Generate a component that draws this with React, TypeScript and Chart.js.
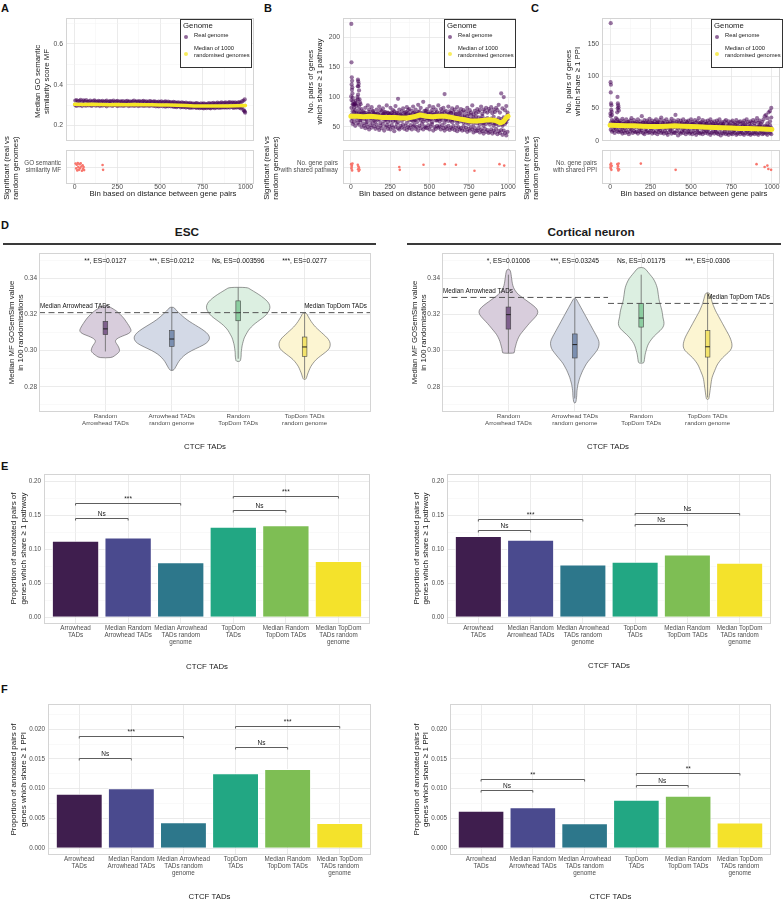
import React, { useEffect, useRef } from 'react';
import { Chart, registerables } from 'chart.js';

Chart.register(...registerables);

const FONT = '"Liberation Sans", Arial, Helvetica, sans-serif';
Chart.defaults.font.family = FONT;
Chart.defaults.color = '#4d4d4d';

// ================= DATA =================
// Panels A-C: bins of distance between gene pairs
const binTicks = [0, 250, 500, 750, 1000];
const binsX = [
  4, 12, 20, 28, 36, 44, 52, 60, 68, 76, 84, 92, 100, 108, 116, 124, 132, 140, 148, 156,
  164, 172, 180, 188, 196, 204, 212, 220, 228, 236, 244, 252, 260, 268, 276, 284, 292, 300, 308, 316,
  324, 332, 340, 348, 356, 364, 372, 380, 388, 396, 404, 412, 420, 428, 436, 444, 452, 460, 468, 476,
  484, 492, 500, 508, 516, 524, 532, 540, 548, 556, 564, 572, 580, 588, 596, 604, 612, 620, 628, 636,
  644, 652, 660, 668, 676, 684, 692, 700, 708, 716, 724, 732, 740, 748, 756, 764, 772, 780, 788, 796,
  804, 812, 820, 828, 836, 844, 852, 860, 868, 876, 884, 892, 900, 908, 916, 924, 932, 940, 948, 956,
  964, 972, 980, 988, 996,
];

// A: median GO semantic similarity score MF (real genome)
const aReal1 = [
  0.322, 0.325, 0.318, 0.321, 0.326, 0.317, 0.323, 0.320, 0.324, 0.316,
  0.319, 0.322, 0.315, 0.320, 0.323, 0.318, 0.316, 0.321, 0.319, 0.317,
  0.321, 0.316, 0.319, 0.322, 0.315, 0.318, 0.320, 0.317, 0.322, 0.316,
  0.318, 0.321, 0.315, 0.319, 0.317, 0.320, 0.314, 0.318, 0.321, 0.316,
  0.319, 0.315, 0.318, 0.322, 0.316, 0.319, 0.317, 0.320, 0.315, 0.318,
  0.321, 0.316, 0.319, 0.314, 0.318, 0.320, 0.315, 0.317, 0.319, 0.316,
  0.313, 0.317, 0.315, 0.319, 0.312, 0.316, 0.318, 0.314, 0.317, 0.313,
  0.315, 0.311, 0.316, 0.313, 0.310, 0.314, 0.312, 0.309, 0.313, 0.311,
  0.308, 0.312, 0.309, 0.307, 0.311, 0.306, 0.309, 0.305, 0.308, 0.310,
  0.306, 0.304, 0.308, 0.305, 0.309, 0.306, 0.303, 0.307, 0.310, 0.305,
  0.308, 0.311, 0.306, 0.309, 0.312, 0.307, 0.310, 0.313, 0.308, 0.311,
  0.313, 0.309, 0.312, 0.315, 0.310, 0.313, 0.311, 0.314, 0.309, 0.312,
  0.315, 0.311, 0.318, 0.322, 0.328,
];
const aReal2 = [
  0.300, 0.296, 0.303, 0.298, 0.301, 0.295, 0.304, 0.299, 0.297, 0.302,
  0.298, 0.301, 0.296, 0.300, 0.303, 0.297, 0.299, 0.302, 0.295, 0.300,
  0.297, 0.301, 0.299, 0.294, 0.300, 0.298, 0.302, 0.296, 0.299, 0.301,
  0.298, 0.295, 0.300, 0.297, 0.301, 0.296, 0.299, 0.298, 0.302, 0.295,
  0.299, 0.297, 0.301, 0.296, 0.298, 0.300, 0.295, 0.299, 0.297, 0.300,
  0.296, 0.299, 0.297, 0.301, 0.295, 0.298, 0.300, 0.296, 0.298, 0.294,
  0.297, 0.293, 0.296, 0.299, 0.294, 0.297, 0.292, 0.296, 0.294, 0.297,
  0.293, 0.296, 0.291, 0.294, 0.290, 0.293, 0.295, 0.289, 0.292, 0.290,
  0.292, 0.288, 0.291, 0.289, 0.286, 0.290, 0.287, 0.291, 0.288, 0.286,
  0.289, 0.285, 0.288, 0.286, 0.284, 0.287, 0.285, 0.289, 0.286, 0.284,
  0.287, 0.290, 0.285, 0.288, 0.291, 0.286, 0.289, 0.287, 0.290, 0.288,
  0.290, 0.287, 0.291, 0.288, 0.292, 0.289, 0.286, 0.290, 0.288, 0.291,
  0.287, 0.284, 0.289, 0.276, 0.268,
];
const aOutliers = [[998, 0.263], [992, 0.272]];
const aMedian = [
  [0, 0.304], [50, 0.303], [100, 0.304], [150, 0.303], [200, 0.302], [250, 0.303], [300, 0.302],
  [350, 0.303], [400, 0.302], [450, 0.302], [500, 0.301], [550, 0.300], [600, 0.299], [650, 0.298],
  [700, 0.296], [750, 0.295], [800, 0.295], [850, 0.296], [900, 0.296], [950, 0.297], [1000, 0.298],
];
const aStrip = [
  [6, 1.12], [10, 0.95], [13, 1.08], [16, 0.88], [19, 1.14], [22, 1.0], [26, 0.9], [29, 1.1], [32, 0.96],
  [36, 1.13], [40, 1.02], [43, 0.87], [47, 1.06], [50, 0.93], [53, 1.0], [56, 0.89], [164, 1.07], [167, 0.9],
];

// B: number of gene pairs sharing >= 1 pathway
const bReal1 = [
  95, 88, 82, 78, 90, 118, 85, 72, 80, 76,
  74, 82, 69, 86, 75, 71, 83, 77, 73, 68,
  79, 72, 84, 70, 76, 81, 72, 75, 86, 73,
  71, 82, 74, 78, 72, 85, 74, 97, 79, 70,
  76, 81, 70, 75, 83, 73, 80, 71, 77, 84,
  74, 79, 72, 87, 76, 82, 71, 92, 77, 73,
  80, 75, 85, 72, 78, 83, 71, 79, 75, 86,
  73, 80, 76, 82, 105, 77, 72, 84, 76, 74,
  81, 75, 79, 71, 83, 76, 73, 80, 75, 78,
  70, 76, 82, 72, 78, 74, 86, 71, 77, 73,
  80, 75, 78, 84, 72, 79, 76, 82, 74, 80,
  77, 83, 73, 79, 75, 82, 78, 87, 74, 106,
  81, 100, 78, 85, 74,
];
const bReal2 = [
  70, 64, 75, 68, 72, 66, 74, 61, 69, 65,
  63, 70, 58, 66, 72, 60, 67, 64, 71, 59,
  66, 62, 69, 57, 64, 71, 60, 67, 63, 58,
  65, 61, 68, 59, 66, 62, 70, 58, 64, 67,
  60, 66, 63, 69, 57, 65, 61, 68, 62, 59,
  67, 62, 58, 65, 70, 61, 66, 59, 63, 68,
  60, 65, 62, 69, 58, 64, 67, 61, 66, 63,
  59, 66, 62, 70, 57, 63, 68, 60, 65, 61,
  58, 64, 61, 67, 56, 62, 59, 65, 60, 57,
  62, 57, 60, 55, 63, 58, 61, 54, 59, 62,
  56, 60, 54, 61, 57, 52, 59, 55, 62, 58,
  54, 60, 57, 52, 59, 55, 61, 53, 58, 56,
  52, 60, 55, 58, 63,
];
const bReal3 = [
  60, 55, 58, 52, 62, 57, 54, 61, 50, 56,
  52, 48, 55, 50, 46, 53, 49, 56, 51, 47,
  54, 49, 45, 52, 48, 55, 44, 50, 53, 47,
  51, 46, 53, 49, 43, 50, 55, 48, 46, 52,
  49, 54, 47, 52, 45, 50, 48, 53, 46, 51,
  53, 47, 50, 44, 52, 48, 55, 46, 51, 49,
  48, 53, 46, 51, 55, 44, 50, 47, 52, 49,
  51, 46, 53, 48, 44, 50, 47, 52, 45, 49,
  47, 52, 45, 49, 43, 50, 46, 48, 44, 51,
  45, 49, 42, 47, 44, 50, 46, 41, 48, 43,
  44, 48, 41, 46, 43, 39, 47, 42, 45, 40,
  42, 46, 39, 44, 41, 47, 38, 43, 40, 45,
  37, 44, 40, 36, 42,
];
const bReal4 = [
  82, 76, 70, 88, 74, 96, 79, 66, 73, 69,
  67, 74, 62, 71, 79, 65, 70, 76, 61, 72,
  68, 73, 63, 78, 66, 70, 75, 62, 69, 74,
  64, 72, 66, 70, 76, 61, 68, 73, 65, 71,
  69, 63, 74, 67, 72, 78, 64, 70, 66, 73,
  62, 71, 68, 75, 64, 69, 73, 66, 70, 77,
  65, 72, 69, 63, 74, 70, 66, 73, 61, 68,
  70, 64, 72, 67, 75, 62, 69, 71, 66, 73,
  63, 69, 66, 72, 61, 67, 70, 64, 68, 62,
  66, 61, 68, 64, 58, 70, 63, 66, 60, 67,
  61, 66, 59, 64, 68, 57, 63, 60, 65, 62,
  59, 64, 61, 67, 56, 62, 58, 65, 60, 63,
  55, 66, 58, 62, 70,
];
const bOutliers = [
  [3, 222], [4, 158], [6, 133], [8, 127], [5, 121], [7, 112], [10, 106], [12, 99], [14, 93], [2, 101],
  [9, 116], [16, 88], [45, 129], [47, 126], [50, 122], [48, 118], [52, 111], [46, 104], [42, 100],
  [55, 96], [58, 91], [30, 94], [25, 89], [20, 87], [36, 85], [62, 88],
];
const bMedian = [
  [0, 68], [40, 68], [80, 67], [120, 68], [160, 67], [200, 66], [240, 66], [280, 66], [320, 65], [360, 65],
  [400, 67], [440, 70], [480, 68], [520, 67], [560, 68], [600, 68], [640, 66], [680, 64], [720, 62],
  [760, 60], [800, 60], [840, 61], [880, 62], [920, 61], [950, 57], [970, 59], [990, 66], [1000, 68],
];
const bStrip = [
  [2, 1.1], [4, 0.95], [6, 1.05], [8, 0.88], [10, 1.12], [5, 1.0], [44, 1.08], [46, 0.92], [48, 1.02],
  [50, 0.86], [52, 0.97], [55, 0.9], [308, 1.0], [311, 0.9], [462, 1.08], [597, 1.1], [668, 1.08],
  [786, 0.87], [945, 1.1], [975, 1.05],
];

// C: number of gene pairs sharing >= 1 PPI
const cReal1 = [
  38, 32, 30, 28, 35, 33, 29, 31, 27, 34,
  30, 27, 33, 29, 26, 31, 35, 28, 32, 27,
  29, 33, 26, 30, 38, 28, 32, 27, 31, 29,
  34, 28, 31, 26, 30, 33, 27, 29, 32, 36,
  28, 31, 27, 33, 29, 26, 30, 34, 28, 31,
  40, 29, 32, 27, 31, 28, 33, 26, 30, 29,
  31, 27, 33, 29, 26, 32, 28, 30, 35, 27,
  29, 32, 27, 30, 26, 31, 28, 33, 29, 27,
  30, 26, 31, 28, 33, 27, 29, 25, 30, 32,
  27, 30, 25, 29, 31, 26, 28, 32, 27, 29,
  30, 26, 28, 31, 27, 33, 29, 26, 30, 28,
  32, 27, 30, 35, 28, 31, 26, 29, 33, 38,
  40, 35, 44, 46, 51,
];
const cReal2 = [
  25, 22, 24, 20, 26, 23, 21, 25, 22, 19,
  23, 20, 24, 21, 25, 19, 22, 24, 20, 23,
  21, 24, 19, 23, 20, 25, 22, 18, 24, 21,
  22, 19, 24, 20, 23, 21, 25, 18, 22, 20,
  24, 20, 22, 19, 23, 21, 18, 24, 20, 22,
  21, 23, 19, 22, 20, 24, 18, 21, 23, 19,
  22, 18, 21, 23, 19, 22, 20, 17, 21, 24,
  19, 22, 18, 21, 23, 17, 20, 22, 19, 21,
  20, 17, 22, 19, 21, 18, 20, 23, 17, 19,
  18, 21, 17, 20, 19, 16, 21, 18, 20, 17,
  19, 16, 20, 18, 21, 17, 19, 16, 20, 18,
  17, 20, 16, 19, 18, 21, 16, 19, 17, 20,
  18, 22, 17, 24, 20,
];
const cReal3 = [
  17, 14, 16, 12, 18, 15, 13, 16, 14, 11,
  15, 12, 16, 13, 10, 14, 17, 12, 15, 13,
  14, 11, 15, 13, 16, 12, 10, 14, 15, 12,
  13, 16, 11, 14, 12, 15, 10, 13, 16, 12,
  14, 11, 15, 12, 9, 13, 16, 11, 14, 12,
  12, 15, 8, 13, 11, 14, 12, 16, 10, 13,
  14, 11, 13, 10, 15, 12, 9, 14, 12, 11,
  13, 10, 14, 12, 15, 11, 13, 9, 12, 14,
  11, 14, 12, 10, 13, 8, 12, 11, 14, 10,
  12, 9, 13, 11, 10, 14, 12, 9, 11, 13,
  10, 13, 11, 9, 12, 14, 10, 12, 9, 11,
  12, 10, 13, 11, 9, 12, 14, 10, 11, 13,
  11, 9, 14, 12, 10,
];
const cReal4 = [
  28, 24, 27, 22, 30, 26, 23, 28, 25, 21,
  26, 23, 27, 24, 29, 22, 25, 27, 23, 26,
  24, 27, 22, 26, 23, 28, 25, 21, 27, 24,
  25, 22, 27, 23, 26, 24, 28, 21, 25, 23,
  27, 23, 25, 22, 26, 24, 21, 27, 23, 25,
  24, 26, 22, 25, 23, 27, 21, 24, 26, 22,
  25, 21, 24, 26, 22, 25, 23, 20, 24, 27,
  22, 25, 21, 24, 26, 20, 23, 25, 22, 24,
  23, 20, 25, 22, 24, 21, 23, 26, 20, 22,
  21, 24, 20, 23, 22, 19, 24, 21, 23, 20,
  22, 19, 23, 21, 24, 20, 22, 19, 23, 21,
  20, 23, 19, 22, 21, 24, 19, 22, 20, 23,
  22, 27, 21, 30, 36,
];
const cOutliers = [
  [4, 183], [3, 91], [5, 87], [4, 75], [6, 58], [8, 55], [7, 48], [10, 45], [2, 42], [12, 40],
  [46, 68], [48, 58], [50, 55], [52, 52], [47, 50], [44, 44], [54, 47],
];
const cMedian = [
  [0, 24], [50, 23.5], [100, 23], [150, 23], [200, 22.5], [250, 22], [300, 22], [350, 22.5], [400, 23],
  [450, 22.5], [500, 22], [550, 21.5], [600, 21], [650, 20.5], [700, 20], [750, 19.5], [800, 19],
  [850, 19], [900, 18.5], [950, 18], [1000, 17.5],
];
const cStrip = [
  [2, 1.08], [4, 0.95], [6, 1.12], [8, 0.9], [3, 1.0], [10, 1.04], [45, 1.1], [47, 0.95], [49, 1.03],
  [51, 0.88], [53, 1.12], [55, 0.92], [190, 1.12], [405, 0.9], [905, 1.1], [955, 1.0], [972, 1.05],
  [978, 0.93], [995, 0.9],
];

const aTicks = [0.2, 0.4, 0.6];
const bTicks = [50, 100, 150, 200];
const cTicks = [0, 50, 100, 150];
const legendTitle = 'Genome';
const legendReal = 'Real genome';
const legendMedian = ['Median of 1000', 'randomised genomes'];

// Panel D: violins
const violinCats = [
  ['Random', 'Arrowhead TADs'],
  ['Arrowhead TADs', 'random genome'],
  ['Random', 'TopDom TADs'],
  ['TopDom TADs', 'random genome'],
];
const violinTicks = [0.28, 0.3, 0.32, 0.34];
const escV1 = [[0.325, 1], [0.324, 5], [0.323, 8], [0.322, 11], [0.32, 15], [0.318, 18.5], [0.316, 21], [0.314, 23.5], [0.312, 25.5], [0.311, 26], [0.31, 25], [0.309, 22], [0.308, 17], [0.307, 13], [0.306, 10.5], [0.305, 10], [0.304, 11], [0.302, 13.5], [0.3, 14.5], [0.299, 13.5], [0.298, 11.5], [0.297, 9], [0.296, 6]];
const escV2 = [[0.324, 2], [0.323, 3.5], [0.322, 5], [0.32, 9], [0.318, 13], [0.316, 18], [0.314, 24], [0.312, 30], [0.31, 35], [0.308, 38], [0.306, 38], [0.304, 35], [0.302, 28], [0.3, 20], [0.298, 14], [0.296, 10], [0.294, 7], [0.292, 5], [0.29, 3], [0.289, 1.5]];
const escV3 = [[0.335, 9], [0.334, 12], [0.333, 15], [0.331, 21], [0.329, 26], [0.327, 30], [0.325, 32], [0.323, 32], [0.321, 30], [0.319, 27], [0.317, 22], [0.315, 17], [0.313, 13], [0.311, 10], [0.309, 8], [0.307, 6], [0.305, 5], [0.303, 4], [0.301, 3.5], [0.299, 3], [0.297, 3], [0.295, 2.5], [0.294, 2]];
const escV4 = [[0.321, 1.5], [0.319, 3.5], [0.317, 5.5], [0.315, 8], [0.313, 11], [0.311, 15], [0.309, 19], [0.307, 23], [0.305, 25.5], [0.303, 26], [0.301, 25], [0.299, 21], [0.297, 16], [0.295, 11.5], [0.293, 8.5], [0.291, 6], [0.289, 4.5], [0.287, 3], [0.285, 2], [0.284, 1]];
const escBoxLo = [0.2995, 0.289, 0.2955, 0.2845];
const escBoxQ1 = [0.3088, 0.3023, 0.3165, 0.2968];
const escBoxMed = [0.312, 0.3064, 0.321, 0.302];
const escBoxQ3 = [0.3162, 0.311, 0.3275, 0.3075];
const escBoxHi = [0.3248, 0.324, 0.335, 0.321];
const escAnnot = ['**, ES=0.0127', '***, ES=0.0212', 'Ns, ES=0.003596', '***, ES=0.0277'];
const escMedians = [0.321, 0.321];

const cortV1 = [[0.345, 1.5], [0.343, 2.5], [0.341, 3], [0.339, 3.5], [0.337, 4], [0.335, 5], [0.333, 7], [0.331, 10], [0.329, 15], [0.327, 20], [0.325, 25], [0.323, 29], [0.321, 30], [0.319, 28], [0.317, 24.5], [0.315, 21], [0.313, 18], [0.311, 15], [0.309, 12], [0.307, 10], [0.305, 8.5], [0.303, 7.5], [0.301, 6.5], [0.299, 6], [0.2985, 5.5]];
const cortV2 = [[0.329, 1], [0.327, 3], [0.325, 5], [0.323, 7], [0.321, 9], [0.319, 11], [0.317, 13], [0.315, 15], [0.313, 17], [0.311, 19], [0.309, 21], [0.307, 23], [0.305, 24.5], [0.303, 24.5], [0.301, 23.5], [0.299, 21], [0.297, 18], [0.295, 15], [0.293, 12], [0.291, 10], [0.289, 8], [0.287, 6.5], [0.285, 5], [0.283, 4], [0.281, 3], [0.279, 2.5], [0.277, 2], [0.275, 2], [0.273, 1.5], [0.271, 1]];
const cortV3 = [[0.346, 3], [0.344, 6], [0.342, 9], [0.34, 12], [0.338, 14], [0.336, 15.5], [0.334, 16.5], [0.332, 17], [0.33, 17.5], [0.328, 18], [0.326, 19], [0.324, 20], [0.322, 21], [0.32, 21.5], [0.318, 22], [0.316, 23], [0.314, 23], [0.312, 21], [0.31, 17], [0.308, 13], [0.306, 10], [0.304, 7.5], [0.302, 6], [0.3, 5], [0.298, 4], [0.296, 3.5], [0.294, 3], [0.293, 2.5]];
const cortV4 = [[0.332, 2], [0.33, 3], [0.328, 4], [0.326, 5], [0.324, 6.5], [0.322, 8], [0.32, 10], [0.318, 12], [0.316, 14], [0.314, 16], [0.312, 18], [0.31, 20], [0.308, 22], [0.306, 23.5], [0.304, 24.5], [0.302, 24.7], [0.3, 23], [0.298, 19], [0.296, 15], [0.294, 12], [0.292, 9.5], [0.29, 8], [0.288, 6.5], [0.286, 5], [0.284, 4], [0.282, 3.5], [0.28, 3], [0.278, 2.5], [0.276, 2], [0.274, 1.5], [0.273, 1]];
const cortBoxLo = [0.2985, 0.2735, 0.2935, 0.274];
const cortBoxQ1 = [0.3119, 0.2959, 0.313, 0.2964];
const cortBoxMed = [0.3199, 0.3033, 0.318, 0.3021];
const cortBoxQ3 = [0.3241, 0.3092, 0.326, 0.311];
const cortBoxHi = [0.342, 0.3285, 0.342, 0.332];
const cortAnnot = ['*, ES=0.01006', '***, ES=0.03245', 'Ns, ES=0.01175', '***, ES=0.0306'];
const cortMedians = [0.3294, 0.3261];

// Panels E/F: bars
const barCats = [
  ['Arrowhead', 'TADs'],
  ['Median Random', 'Arrowhead TADs'],
  ['Median Arrowhead', 'TADs random', 'genome'],
  ['TopDom', 'TADs'],
  ['Median Random', 'TopDom TADs'],
  ['Median TopDom', 'TADs random', 'genome'],
];
const eTicks = [0, 0.05, 0.1, 0.15, 0.2];
const fTicks = [0, 0.005, 0.01, 0.015, 0.02];
const eEsc = [0.1125, 0.1173, 0.0808, 0.1329, 0.1353, 0.0828];
const eCort = [0.1195, 0.114, 0.0776, 0.0815, 0.0922, 0.08];
const fEsc = [0.00914, 0.01008, 0.00435, 0.01259, 0.01331, 0.00423];
const fCort = [0.00627, 0.00689, 0.0042, 0.00812, 0.0088, 0.00431];
const eEscBrackets = [[0, 1, 0.146, 'Ns'], [0, 2, 0.168, '***'], [3, 4, 0.157, 'Ns'], [3, 5, 0.179, '***']];
const eCortBrackets = [[0, 1, 0.1288, 'Ns'], [0, 2, 0.1449, '***'], [3, 4, 0.1376, 'Ns'], [3, 5, 0.1537, 'Ns']];
const fEscBrackets = [[0, 1, 0.0151, 'Ns'], [0, 2, 0.01877, '***'], [3, 4, 0.01694, 'Ns'], [3, 5, 0.0206, '***']];
const fCortBrackets = [[0, 1, 0.00975, 'Ns'], [0, 2, 0.0116, '**'], [3, 4, 0.01064, 'Ns'], [3, 5, 0.01255, '**']];

// ================= STYLE =================
const PURPLE_PT = 'rgba(68,1,84,0.55)';
const YELLOW = '#F6E626';
const BAR_COLORS = ['#3f1e4e', '#4a4a8e', '#2d778b', '#22a783', '#7ebe54', '#f4e22b'];
const VIOLIN_FILL = ['#d8cddc', '#d3d9e6', '#dcefe1', '#fcf5d2'];
const BOX_FILL = ['#7e5f8c', '#7b8fb0', '#8ccda0', '#f3e36b'];
const VSCALE = 1 / 67;

type Rect = { x: number; y: number; w: number; h: number };
type Area = { l: number; t: number; r: number; b: number };
type Tk = { value: number; minor?: boolean };
type Txt = { t: string; x: number; y: number; s: number; c?: string; a?: string; b?: boolean; r?: boolean };

function frame(rect: Rect, area: Area) {
  return {
    padding: { top: area.t - rect.y, right: rect.x + rect.w - area.r, left: 0, bottom: 0 },
    yW: area.l - rect.x,
    xH: rect.y + rect.h - area.b,
  };
}

function withMinor(major: number[], lo: number, hi: number): Tk[] {
  const step = major[1] - major[0];
  const out: Tk[] = [];
  if (major[0] - step / 2 >= lo) out.push({ value: major[0] - step / 2, minor: true });
  major.forEach((v) => {
    out.push({ value: v });
    if (v + step / 2 <= hi) out.push({ value: v + step / 2, minor: true });
  });
  return out;
}

const gridOpts = {
  drawTicks: false,
  offset: false,
  color: (c: any) => (c.tick && c.tick.minor ? '#f3f3f3' : '#e6e6e6'),
  lineWidth: (c: any) => (c.tick && c.tick.minor ? 0.5 : 0.8),
};

function axis(o: any) {
  return {
    type: 'linear',
    min: o.min,
    max: o.max,
    offset: false,
    afterBuildTicks: (s: any) => {
      s.ticks = o.ticks.map((t: Tk) => ({ ...t }));
    },
    afterFit: o.fit,
    ticks: {
      display: o.labels !== false,
      callback: o.label || (() => ''),
      color: '#4d4d4d',
      font: { size: o.size ?? 6.5, lineHeight: o.lh ?? 1.1 },
      padding: o.pad ?? 2,
      autoSkip: false,
      maxRotation: 0,
      minRotation: 0,
    },
    grid: gridOpts,
    border: { display: false },
  };
}

function baseOptions(fr: any, scales: any) {
  return {
    responsive: false,
    maintainAspectRatio: false,
    animation: false,
    devicePixelRatio: 1,
    events: [],
    layout: { padding: fr.padding },
    plugins: { legend: { display: false }, tooltip: { enabled: false } },
    scales,
  };
}

const panelBorder = {
  id: 'panelBorder',
  afterDatasetsDraw(chart: any) {
    const { ctx, chartArea: a } = chart;
    ctx.save();
    ctx.strokeStyle = '#d4d4d4';
    ctx.lineWidth = 1;
    ctx.strokeRect(Math.round(a.left) + 0.5, Math.round(a.top) + 0.5, Math.round(a.right - a.left) - 1, Math.round(a.bottom - a.top) - 1);
    ctx.restore();
  },
};

function textLayer(rect: Rect, items: Txt[]) {
  return {
    id: 'textLayer',
    afterDraw(chart: any) {
      const ctx = chart.ctx;
      items.forEach((it) => {
        ctx.save();
        ctx.font = `${it.b ? 'bold ' : ''}${it.s}px ${FONT}`;
        ctx.fillStyle = it.c || '#1a1a1a';
        ctx.textAlign = (it.a || 'center') as CanvasTextAlign;
        ctx.textBaseline = 'middle';
        ctx.translate(it.x - rect.x, it.y - rect.y);
        if (it.r) ctx.rotate(-Math.PI / 2);
        ctx.fillText(it.t, 0, 0);
        ctx.restore();
      });
    },
  };
}

function vTitle(lines: string[], xs: number[], cy: number, s = 7.8): Txt[] {
  return lines.map((t, i) => ({ t, x: xs[i], y: cy, s, r: true }));
}

function genomeLegend(rect: Rect, left: number) {
  return {
    id: 'genomeLegend',
    afterDraw(chart: any) {
      const ctx = chart.ctx;
      const x0 = left - rect.x;
      const y0 = 19 - rect.y;
      ctx.save();
      ctx.fillStyle = '#ffffff';
      ctx.fillRect(x0, y0, 71, 48);
      ctx.strokeStyle = '#333333';
      ctx.lineWidth = 1;
      ctx.strokeRect(x0 + 0.5, y0 + 0.5, 71, 48);
      ctx.textBaseline = 'middle';
      ctx.textAlign = 'left';
      ctx.fillStyle = '#1a1a1a';
      ctx.font = `7.8px ${FONT}`;
      ctx.fillText(legendTitle, x0 + 3, y0 + 7);
      ctx.font = `5.8px ${FONT}`;
      ctx.fillText(legendReal, x0 + 14, y0 + 16);
      legendMedian.forEach((t, i) => ctx.fillText(t, x0 + 14, y0 + 29 + i * 7));
      ctx.fillStyle = 'rgba(68,1,84,0.6)';
      ctx.beginPath();
      ctx.arc(x0 + 6, y0 + 18, 2, 0, Math.PI * 2);
      ctx.fill();
      ctx.fillStyle = 'rgba(246,230,38,0.75)';
      ctx.beginPath();
      ctx.arc(x0 + 6, y0 + 35, 2, 0, Math.PI * 2);
      ctx.fill();
      ctx.restore();
    },
  };
}

function scatterMain(o: any) {
  const fr = frame(o.rect, o.area);
  const pt = { backgroundColor: PURPLE_PT, borderWidth: 0, pointRadius: 2.1 };
  // median of randomised genomes first so it is drawn on top
  const datasets: any[] = [{
    data: o.median.map((p: number[]) => ({ x: p[0], y: p[1] })),
    showLine: true,
    borderColor: YELLOW,
    backgroundColor: YELLOW,
    borderWidth: o.mw,
    pointRadius: 0,
    borderCapStyle: 'round',
    borderJoinStyle: 'round',
  }];
  o.real.forEach((ys: number[]) => datasets.push({ ...pt, data: binsX.map((x, i) => ({ x, y: ys[i] })) }));
  datasets.push({ ...pt, data: o.outliers.map((p: number[]) => ({ x: p[0], y: p[1] })) });
  const cy = (o.area.t + o.area.b) / 2;
  return {
    type: 'scatter',
    data: { datasets },
    options: baseOptions(fr, {
      x: axis({ min: -50, max: 1050, ticks: withMinor(binTicks, -50, 1050), labels: false, fit: (s: any) => { s.height = fr.xH; } }),
      y: axis({
        min: o.yMin, max: o.yMax, ticks: withMinor(o.yMajor, o.yMin, o.yMax),
        label: (v: number, i: number, t: any[]) => (t[i].minor ? '' : o.fmt(v)),
        size: 6.8, pad: 3, fit: (s: any) => { s.width = fr.yW; },
      }),
    }),
    plugins: [panelBorder, genomeLegend(o.rect, o.legendLeft), textLayer(o.rect, vTitle(o.title, o.titleX, cy))],
  };
}

function scatterStrip(o: any) {
  const fr = frame(o.rect, o.area);
  return {
    type: 'scatter',
    data: { datasets: [{ data: o.pts.map((p: number[]) => ({ x: p[0], y: p[1] })), backgroundColor: '#F8766D', borderWidth: 0, pointRadius: 1.3 }] },
    options: baseOptions(fr, {
      x: axis({
        min: -50, max: 1050, ticks: withMinor(binTicks, -50, 1050),
        label: (v: number, i: number, t: any[]) => (t[i].minor ? '' : String(v)),
        size: 6.8, lh: 1, pad: 0, fit: (s: any) => { s.height = fr.xH; },
      }),
      y: axis({ min: 0.4, max: 1.6, ticks: [{ value: 1 }], label: () => o.cat, size: 6.3, lh: 1.15, pad: 5, fit: (s: any) => { s.width = fr.yW; } }),
    }),
    plugins: [
      panelBorder,
      textLayer(o.rect, [
        { t: 'Bin based on distance between gene pairs', x: (o.area.l + o.area.r) / 2 + 3, y: 194, s: 7.8 },
        ...vTitle(['Significant (real vs', 'random genomes)'], o.sigX, 168),
      ]),
    ],
  };
}

function smoothClosed(ctx: any, pts: number[][]) {
  const n = pts.length;
  const mid = (a: number[], b: number[]) => [(a[0] + b[0]) / 2, (a[1] + b[1]) / 2];
  const m0 = mid(pts[n - 1], pts[0]);
  ctx.beginPath();
  ctx.moveTo(m0[0], m0[1]);
  for (let i = 0; i < n; i++) {
    const p = pts[i];
    const q = pts[(i + 1) % n];
    const m = mid(p, q);
    ctx.quadraticCurveTo(p[0], p[1], m[0], m[1]);
  }
  ctx.closePath();
}

function violinLayer(o: any) {
  return {
    id: 'violins',
    beforeDatasetsDraw(chart: any) {
      const { ctx, scales } = chart;
      const xs = scales.x;
      const ys = scales.y;
      const unit = xs.getPixelForValue(1) - xs.getPixelForValue(0);
      ctx.save();
      o.profiles.forEach((prof: number[][], i: number) => {
        const cx = xs.getPixelForValue(i);
        const right = prof.map(([v, d]) => [cx + d * VSCALE * unit, ys.getPixelForValue(v)]);
        const left = prof.map(([v, d]) => [cx - d * VSCALE * unit, ys.getPixelForValue(v)]).reverse();
        smoothClosed(ctx, [...right, ...left]);
        ctx.fillStyle = VIOLIN_FILL[i];
        ctx.fill();
        ctx.strokeStyle = '#555555';
        ctx.lineWidth = 0.6;
        ctx.stroke();
        ctx.beginPath();
        ctx.moveTo(cx, ys.getPixelForValue(o.hi[i]));
        ctx.lineTo(cx, ys.getPixelForValue(o.lo[i]));
        ctx.strokeStyle = '#666666';
        ctx.lineWidth = 0.8;
        ctx.stroke();
        const bw = 0.07 * unit;
        const top = ys.getPixelForValue(o.q3[i]);
        const bot = ys.getPixelForValue(o.q1[i]);
        ctx.fillStyle = BOX_FILL[i];
        ctx.fillRect(cx - bw / 2, top, bw, bot - top);
        ctx.strokeStyle = '#444444';
        ctx.lineWidth = 0.6;
        ctx.strokeRect(cx - bw / 2, top, bw, bot - top);
        const my = ys.getPixelForValue(o.med[i]);
        ctx.beginPath();
        ctx.moveTo(cx - bw / 2, my);
        ctx.lineTo(cx + bw / 2, my);
        ctx.strokeStyle = '#222222';
        ctx.lineWidth = 1;
        ctx.stroke();
      });
      ctx.restore();
    },
    afterDatasetsDraw(chart: any) {
      const { ctx, scales, chartArea: a } = chart;
      const xs = scales.x;
      const ys = scales.y;
      ctx.save();
      ctx.setLineDash([6, 3.5]);
      ctx.strokeStyle = '#555555';
      ctx.lineWidth = 1;
      const split = xs.getPixelForValue(1.5);
      const segs = [[a.left, split, o.medians[0]], [split, a.right, o.medians[1]]];
      segs.forEach(([x1, x2, v]) => {
        const y = ys.getPixelForValue(v);
        ctx.beginPath();
        ctx.moveTo(x1, y);
        ctx.lineTo(x2, y);
        ctx.stroke();
      });
      ctx.setLineDash([]);
      ctx.fillStyle = '#111111';
      ctx.textBaseline = 'middle';
      ctx.font = `6.3px ${FONT}`;
      ctx.textAlign = 'left';
      ctx.fillText('Median Arrowhead TADs', a.left + 1, ys.getPixelForValue(o.medians[0]) - 6.5);
      ctx.textAlign = 'right';
      ctx.fillText('Median TopDom TADs', a.right - 4, ys.getPixelForValue(o.medians[1]) - 6.5);
      ctx.textAlign = 'center';
      ctx.font = `6.7px ${FONT}`;
      o.annots.forEach((t: string, i: number) => ctx.fillText(t, xs.getPixelForValue(i), a.top + 8));
      ctx.restore();
    },
  };
}

function violinChart(o: any) {
  const fr = frame(o.rect, o.area);
  const cy = (o.area.t + o.area.b) / 2;
  return {
    type: 'scatter',
    data: { datasets: [{ data: o.med.map((m: number, i: number) => ({ x: i, y: m })), pointRadius: 0 }] },
    options: baseOptions(fr, {
      x: axis({
        min: -1, max: 4, ticks: violinCats.map((_, i) => ({ value: i })),
        label: (v: number) => violinCats[Math.round(v)] || '',
        size: 6.2, lh: 1.08, pad: 1.3, fit: (s: any) => { s.height = fr.xH; },
      }),
      y: axis({
        min: 0.266, max: 0.354, ticks: withMinor(violinTicks, 0.266, 0.354),
        label: (v: number, i: number, t: any[]) => (t[i].minor ? '' : v.toFixed(2)),
        size: 6.5, pad: 2, fit: (s: any) => { s.width = fr.yW; },
      }),
    }),
    plugins: [
      violinLayer(o),
      panelBorder,
      textLayer(o.rect, [
        ...vTitle(['Median MF GOSemSim value', 'in 100 randomisations'], o.titleX, cy),
        { t: 'CTCF TADs', x: (o.area.l + o.area.r) / 2, y: 447, s: 7.8 },
      ]),
    ],
  };
}

function bracketLayer(br: any[]) {
  return {
    id: 'brackets',
    afterDatasetsDraw(chart: any) {
      const { ctx, scales } = chart;
      const xs = scales.x;
      const ys = scales.y;
      ctx.save();
      ctx.strokeStyle = '#5e5e5e';
      ctx.lineWidth = 1;
      ctx.fillStyle = '#1a1a1a';
      ctx.font = `6.5px ${FONT}`;
      ctx.textAlign = 'center';
      ctx.textBaseline = 'middle';
      br.forEach(([a, b, v, lab]) => {
        const x1 = xs.getPixelForValue(a);
        const x2 = xs.getPixelForValue(b);
        const py = Math.round(ys.getPixelForValue(v)) + 0.5;
        ctx.beginPath();
        ctx.moveTo(x1, py + 2);
        ctx.lineTo(x1, py);
        ctx.lineTo(x2, py);
        ctx.lineTo(x2, py + 2);
        ctx.stroke();
        ctx.fillText(lab, (x1 + x2) / 2, py - 4.5);
      });
      ctx.restore();
    },
  };
}

function barChart(o: any) {
  const fr = frame(o.rect, o.area);
  const cy = (o.area.t + o.area.b) / 2;
  return {
    type: 'bar',
    data: {
      datasets: [{
        data: o.values.map((v: number, i: number) => ({ x: i, y: v })),
        backgroundColor: BAR_COLORS,
        borderColor: 'rgba(255,255,255,0.85)',
        borderWidth: 1,
        barPercentage: 0.9,
        categoryPercentage: 1,
      }],
    },
    options: baseOptions(fr, {
      x: axis({
        min: -0.6, max: 5.6, ticks: barCats.map((_, i) => ({ value: i })),
        label: (v: number) => barCats[Math.round(v)] || '',
        size: 6.3, lh: 1.1, pad: 0.8, fit: (s: any) => { s.height = fr.xH; },
      }),
      y: axis({
        min: o.yMin, max: o.yMax, ticks: withMinor(o.yMajor, o.yMin, o.yMax),
        label: (v: number, i: number, t: any[]) => (t[i].minor ? '' : v.toFixed(o.dec)),
        size: 6.3, pad: 3, fit: (s: any) => { s.width = fr.yW; },
      }),
    }),
    plugins: [
      panelBorder,
      bracketLayer(o.brackets),
      textLayer(o.rect, [
        ...vTitle(o.title, o.titleX, cy, 8),
        { t: 'CTCF TADs', x: (o.area.l + o.area.r) / 2, y: o.xTitleY, s: 7.8 },
      ]),
    ],
  };
}

// ================= COMPONENTS =================
function ChartBox({ rect, make }: { rect: Rect; make: () => any }) {
  const ref = useRef<HTMLCanvasElement | null>(null);
  useEffect(() => {
    if (!ref.current) return undefined;
    const chart = new Chart(ref.current, make());
    return () => chart.destroy();
  }, []);
  return (
    <canvas
      ref={ref}
      width={rect.w}
      height={rect.h}
      style={{ position: 'absolute', left: rect.x, top: rect.y, width: rect.w, height: rect.h }}
    />
  );
}

function Letter({ t, x, y }: { t: string; x: number; y: number }) {
  return (
    <div style={{ position: 'absolute', left: x, top: y, font: `bold 11px ${FONT}`, lineHeight: '12px', color: '#111' }}>{t}</div>
  );
}

function Header({ t, cx, lineL, lineW }: { t: string; cx: number; lineL: number; lineW: number }) {
  return (
    <>
      <div style={{ position: 'absolute', left: cx - 120, width: 240, top: 225, textAlign: 'center', font: `bold 11.8px ${FONT}`, lineHeight: '14px', color: '#1a1a1a' }}>{t}</div>
      <div style={{ position: 'absolute', left: lineL, top: 243, width: lineW, height: 2, background: '#3a3a3a' }} />
    </>
  );
}

const R = {
  aMain: { x: 0, y: 0, w: 262, h: 148 },
  aStrip: { x: 0, y: 120, w: 262, h: 81 },
  bMain: { x: 262, y: 0, w: 260, h: 148 },
  bStrip: { x: 262, y: 120, w: 260, h: 81 },
  cMain: { x: 522, y: 0, w: 262, h: 148 },
  cStrip: { x: 522, y: 120, w: 262, h: 81 },
  dEsc: { x: 0, y: 246, w: 392, h: 210 },
  dCort: { x: 392, y: 246, w: 392, h: 210 },
  eEsc: { x: 0, y: 468, w: 392, h: 205 },
  eCort: { x: 392, y: 468, w: 392, h: 205 },
  fEsc: { x: 0, y: 698, w: 392, h: 203 },
  fCort: { x: 392, y: 698, w: 392, h: 203 },
};

export default function App() {
  return (
    <div style={{ position: 'absolute', left: 0, top: 0, width: 784, height: 901, background: '#ffffff', overflow: 'hidden', fontFamily: FONT }}>
      <Letter t="A" x={1} y={2} />
      <Letter t="B" x={264} y={2} />
      <Letter t="C" x={531} y={2} />
      <Letter t="D" x={1} y={219} />
      <Letter t="E" x={1} y={460} />
      <Letter t="F" x={1} y={683} />
      <Header t="ESC" cx={187} lineL={3} lineW={373} />
      <Header t="Cortical neuron" cx={591} lineL={407} lineW={374} />

      <ChartBox rect={R.aMain} make={() => scatterMain({
        rect: R.aMain, area: { l: 66, t: 18, r: 254, b: 145 }, yMin: 0.1225, yMax: 0.7275, yMajor: aTicks,
        fmt: (v: number) => v.toFixed(1), real: [aReal1, aReal2], outliers: aOutliers, median: aMedian, mw: 3.5,
        legendLeft: 180, title: ['Median GO semantic', 'similarity score MF'], titleX: [38, 46.5],
      })} />
      <ChartBox rect={R.aStrip} make={() => scatterStrip({
        rect: R.aStrip, area: { l: 66, t: 150, r: 254, b: 184 }, pts: aStrip,
        cat: ['GO semantic', 'similarity MF'], sigX: [7.3, 15.7],
      })} />

      <ChartBox rect={R.bMain} make={() => scatterMain({
        rect: R.bMain, area: { l: 343, t: 18, r: 516, b: 145 }, yMin: 26.2, yMax: 231.9, yMajor: bTicks,
        fmt: (v: number) => String(v), real: [bReal1, bReal2, bReal3, bReal4], outliers: bOutliers, median: bMedian, mw: 5,
        legendLeft: 444, title: ['No. pairs of genes', 'which share \u2265 1 pathway'], titleX: [311, 320],
      })} />
      <ChartBox rect={R.bStrip} make={() => scatterStrip({
        rect: R.bStrip, area: { l: 343, t: 150, r: 516, b: 184 }, pts: bStrip,
        cat: ['No. gene pairs', 'with shared pathway'], sigX: [267.3, 275.7],
      })} />

      <ChartBox rect={R.cMain} make={() => scatterMain({
        rect: R.cMain, area: { l: 602, t: 18, r: 780, b: 145 }, yMin: -1, yMax: 191, yMajor: cTicks,
        fmt: (v: number) => String(v), real: [cReal1, cReal2, cReal3, cReal4], outliers: cOutliers, median: cMedian, mw: 5,
        legendLeft: 711, title: ['No. pairs of genes', 'which share \u2265 1 PPI'], titleX: [569, 578],
      })} />
      <ChartBox rect={R.cStrip} make={() => scatterStrip({
        rect: R.cStrip, area: { l: 602, t: 150, r: 780, b: 184 }, pts: cStrip,
        cat: ['No. gene pairs', 'with shared PPI'], sigX: [527.3, 535.7],
      })} />

      <ChartBox rect={R.dEsc} make={() => violinChart({
        rect: R.dEsc, area: { l: 39, t: 253, r: 371, b: 412 }, profiles: [escV1, escV2, escV3, escV4],
        lo: escBoxLo, q1: escBoxQ1, med: escBoxMed, q3: escBoxQ3, hi: escBoxHi, annots: escAnnot, medians: escMedians,
        titleX: [12, 21],
      })} />
      <ChartBox rect={R.dCort} make={() => violinChart({
        rect: R.dCort, area: { l: 442, t: 253, r: 774, b: 412 }, profiles: [cortV1, cortV2, cortV3, cortV4],
        lo: cortBoxLo, q1: cortBoxQ1, med: cortBoxMed, q3: cortBoxQ3, hi: cortBoxHi, annots: cortAnnot, medians: cortMedians,
        titleX: [415, 424],
      })} />

      <ChartBox rect={R.eEsc} make={() => barChart({
        rect: R.eEsc, area: { l: 44, t: 473, r: 370, b: 624 }, values: eEsc, yMin: -0.01, yMax: 0.21, yMajor: eTicks, dec: 2,
        brackets: eEscBrackets, title: ['Proportion of annotated pairs of', 'genes which share \u2265 1 pathway'], titleX: [14, 23.5], xTitleY: 667,
      })} />
      <ChartBox rect={R.eCort} make={() => barChart({
        rect: R.eCort, area: { l: 447, t: 473, r: 771, b: 624 }, values: eCort, yMin: -0.01, yMax: 0.21, yMajor: eTicks, dec: 2,
        brackets: eCortBrackets, title: ['Proportion of annotated pairs of', 'genes which share \u2265 1 pathway'], titleX: [416.5, 426], xTitleY: 666,
      })} />
      <ChartBox rect={R.fEsc} make={() => barChart({
        rect: R.fEsc, area: { l: 48, t: 704, r: 371, b: 855 }, values: fEsc, yMin: -0.00115, yMax: 0.02415, yMajor: fTicks, dec: 3,
        brackets: fEscBrackets, title: ['Proportion of annotated pairs of', 'genes which share \u2265 1 PPI'], titleX: [14, 23.5], xTitleY: 897,
      })} />
      <ChartBox rect={R.fCort} make={() => barChart({
        rect: R.fCort, area: { l: 450, t: 704, r: 771, b: 855 }, values: fCort, yMin: -0.00115, yMax: 0.02415, yMajor: fTicks, dec: 3,
        brackets: fCortBrackets, title: ['Proportion of annotated pairs of', 'genes which share \u2265 1 PPI'], titleX: [416.5, 426], xTitleY: 897,
      })} />
    </div>
  );
}
